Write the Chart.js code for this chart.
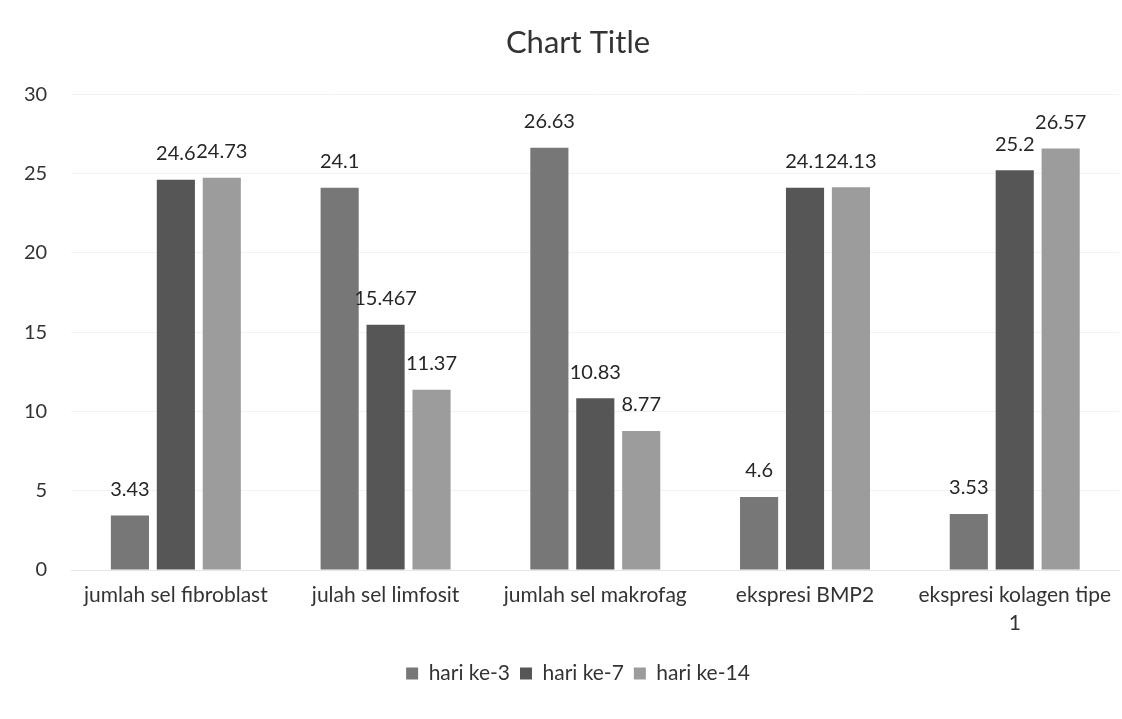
<!DOCTYPE html>
<html>
<head>
<meta charset="utf-8">
<script src="https://cdn.jsdelivr.net/npm/chart.js@4/dist/chart.umd.min.js"></script>
<style>
  html, body { margin: 0; padding: 0; background: #ffffff; }
  #wrap { width: 1122px; height: 719px; }
</style>
</head>
<body>
<div id="wrap"><canvas id="c" width="1122" height="719"></canvas></div>
<script>
// Categories (x axis) and the three measurement days
const categories = [
  'jumlah sel fibroblast',
  'julah sel limfosit',
  'jumlah sel makrofag',
  'ekspresi BMP2',
  ['ekspresi kolagen tipe', '1']
];
const seriesNames = ['hari ke-3', 'hari ke-7', 'hari ke-14'];
const day3 = [3.43, 24.1, 26.63, 4.6, 3.53];
const day7 = [24.6, 15.467, 10.83, 24.1, 25.2];
const day14 = [24.73, 11.37, 8.77, 24.13, 26.57];
const yTicks = [0, 5, 10, 15, 20, 25, 30];

const FONT = 'Lato, "Open Sans", sans-serif';
const colors = ['#777777', '#565656', '#9c9c9c'];

// Draws each bar's value centred above it
const valueLabels = {
  id: 'valueLabels',
  afterDatasetsDraw(chart) {
    const ctx = chart.ctx;
    ctx.save();
    ctx.font = '20px ' + FONT;
    ctx.fillStyle = '#262626';
    ctx.textAlign = 'center';
    ctx.textBaseline = 'middle';
    chart.data.datasets.forEach((ds, i) => {
      const meta = chart.getDatasetMeta(i);
      meta.data.forEach((bar, j) => {
        ctx.fillText(String(ds.data[j]), bar.x, bar.y - 26);
      });
    });
    ctx.restore();
  }
};

new Chart(document.getElementById('c'), {
  type: 'bar',
  data: {
    labels: categories,
    datasets: [day3, day7, day14].map((d, i) => ({
      label: seriesNames[i],
      data: d,
      backgroundColor: colors[i],
      borderWidth: 0,
      barPercentage: 0.83,
      categoryPercentage: 0.657
    }))
  },
  options: {
    responsive: false,
    animation: false,
    layout: { padding: { top: 11, left: 34, right: 0, bottom: 25 } },
    plugins: {
      title: {
        display: true,
        text: 'Chart Title',
        color: '#333333',
        font: { family: FONT, size: 31, weight: 'normal' },
        padding: { top: 13, bottom: 33 }
      },
      legend: {
        position: 'bottom',
        labels: {
          color: '#333333',
          font: { family: FONT, size: 21 },
          boxWidth: 12,
          boxHeight: 12,
          padding: 10
        }
      },
      tooltip: { enabled: false }
    },
    scales: {
      x: {
        grid: { display: false, drawTicks: false },
        border: { display: true, color: '#e6e6e6' },
        ticks: {
          color: '#333333',
          font: { family: FONT, size: 21, lineHeight: '28px' },
          padding: 11,
          maxRotation: 0,
          autoSkip: false
        },
        afterFit(scale) { scale.height = 83; }
      },
      y: {
        min: 0,
        max: 30,
        afterBuildTicks(scale) { scale.ticks = yTicks.map(v => ({ value: v })); },
        grid: { color: 'rgba(0,0,0,0.05)', drawTicks: false },
        border: { display: false },
        ticks: {
          color: '#333333',
          font: { family: FONT, size: 20 },
          mirror: true,
          crossAlign: 'far',
          padding: -47
        },
        afterFit(scale) { scale.width = 37; }
      }
    }
  },
  plugins: [valueLabels]
});
</script>
</body>
</html>
